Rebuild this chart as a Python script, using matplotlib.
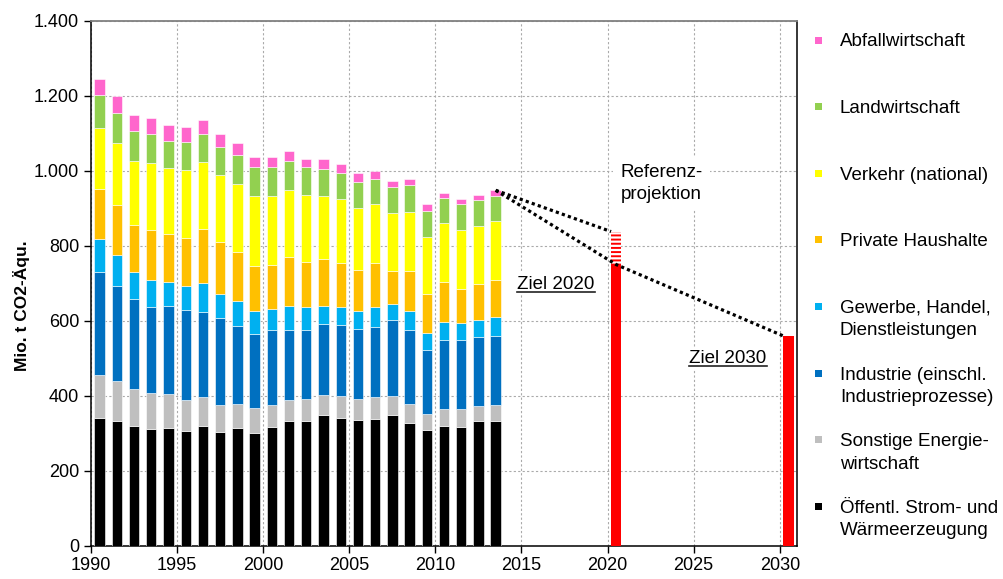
import numpy as np
import matplotlib
matplotlib.use("Agg")
from matplotlib import pyplot as plt
from matplotlib.patches import Rectangle
from matplotlib.lines import Line2D
from matplotlib.ticker import FuncFormatter, MultipleLocator

plt.rcParams['font.family'] = ['Liberation Sans', 'DejaVu Sans']
plt.rcParams['hatch.linewidth'] = 1.4

# Emissionen je Sektor, Mio. t CO2-Aequ.
years = list(range(1990, 2014))
oeffentl = [341, 334, 319, 311, 314, 307, 319, 305, 314, 302, 316, 333, 333, 348, 342, 336, 339, 348, 327, 308, 319, 316, 333, 333]
sonstige = [114, 107, 99, 96, 91, 83, 79, 70, 64, 65, 61, 56, 60, 54, 58, 57, 57, 53, 51, 44, 45, 48, 39, 42]
industrie = [276, 251, 239, 231, 234, 238, 225, 232, 209, 199, 200, 188, 183, 190, 189, 185, 188, 200, 198, 171, 186, 186, 186, 186]
gewerbe = [88, 84, 74, 70, 64, 64, 77, 65, 65, 60, 55, 62, 60, 48, 49, 48, 54, 43, 50, 46, 48, 45, 44, 48]
haushalte = [132, 133, 124, 135, 128, 130, 144, 137, 132, 120, 117, 132, 120, 124, 115, 110, 115, 90, 108, 102, 106, 90, 96, 101]
verkehr = [164, 166, 172, 179, 176, 179, 179, 181, 181, 188, 184, 179, 179, 170, 171, 164, 159, 153, 156, 152, 156, 156, 156, 156]
landw = [88, 80, 79, 76, 73, 75, 76, 74, 77, 76, 76, 76, 75, 70, 70, 71, 67, 70, 72, 71, 68, 71, 68, 68]
abfall = [42, 44, 43, 43, 42, 40, 36, 35, 31, 28, 28, 26, 22, 27, 23, 22, 20, 17, 16, 17, 14, 14, 14, 14]

series = [oeffentl, sonstige, industrie, gewerbe, haushalte, verkehr, landw, abfall]
labels = ["Öffentl. Strom- und\nWärmeerzeugung", "Sonstige Energie-\nwirtschaft",
          "Industrie (einschl.\nIndustrieprozesse)", "Gewerbe, Handel,\nDienstleistungen",
          "Private Haushalte", "Verkehr (national)", "Landwirtschaft", "Abfallwirtschaft"]
colors = ['#000000', '#BFBFBF', '#0070C0', '#00B0F0', '#FFC000', '#FFFF00', '#92D050', '#FF66CC']

# Ziele
ziel_years = [2020, 2030]
ziel_werte = [750, 560]
referenz_2020 = 838

W, H = 1004, 579
fig = plt.figure(figsize=(W / 100, H / 100), dpi=100)
ax = fig.add_axes([91 / W, 1 - 546 / H, (797 - 91) / W, (546 - 20.7) / H])

bw = 0.6
x = np.array(years) + 0.5
bottom = np.zeros(len(years))
for vals, c in zip(series, colors):
    ax.bar(x, vals, bw, bottom=bottom, color=c, edgecolor='white', linewidth=0.4, zorder=3)
    bottom += np.array(vals)

zx = np.array(ziel_years) + 0.5
ax.bar(zx, ziel_werte, bw, color='#FF0000', linewidth=0, zorder=3)
ax.bar(zx[0], referenz_2020 - ziel_werte[0], bw, bottom=ziel_werte[0], facecolor='white',
       edgecolor='#FF0000', hatch='----', linewidth=0, zorder=3)

# Verbindungslinien
x_start = x[-1]
y_start = bottom[-1]
ax.plot([x_start, zx[0] - bw / 2], [y_start, referenz_2020], color='black',
        linestyle=(0, (1, 1)), linewidth=2.3, zorder=4)
ax.plot([x_start, zx[0], zx[1] - bw / 2], [y_start, ziel_werte[0], ziel_werte[1]], color='black',
        linestyle=(0, (1, 1)), linewidth=2.3, zorder=4)

ax.set_xlim(1990, 2031)
ax.set_ylim(0, 1400)
ax.xaxis.set_major_locator(MultipleLocator(5))
ax.yaxis.set_major_locator(MultipleLocator(200))
ax.yaxis.set_major_formatter(FuncFormatter(lambda v, p: f"{int(v):,}".replace(',', '.')))
ax.grid(True, color='#AAAAAA', linestyle=(0, (2, 2)), linewidth=0.8, zorder=0)
ax.set_axisbelow(True)
ax.tick_params(labelsize=13, direction='out', length=5, width=1, colors='black')
ax.tick_params(axis='x', pad=3)
for s in ['left', 'bottom', 'right']:
    ax.spines[s].set_color('black')
    ax.spines[s].set_linewidth(1.1)
ax.spines['top'].set_color('#808080')
ax.spines['top'].set_linewidth(1.3)

fig.text(22 / W, 1 - 306 / H, "Mio. t CO2-Äqu.", rotation=90, fontsize=12.5,
         fontweight='bold', ha='center', va='center')

# Beschriftungen
ax.text(2020.75, 966, "Referenz-\nprojektion", fontsize=13.5, ha='left', va='center',
        linespacing=1.35, zorder=2,
        bbox=dict(boxstyle='square,pad=0.4', facecolor='white', edgecolor='none'))
t1 = ax.text(2017.0, 698, "Ziel 2020", fontsize=13.5, ha='center', va='center', zorder=2,
             bbox=dict(boxstyle='square,pad=0.15', facecolor='white', edgecolor='none'))
t2 = ax.text(2027.0, 501, "Ziel 2030", fontsize=13.5, ha='center', va='center', zorder=2,
             bbox=dict(boxstyle='square,pad=0.15', facecolor='white', edgecolor='none'))

fig.canvas.draw()
renderer = fig.canvas.get_renderer()
for t in [t1, t2]:
    bb = t.get_window_extent(renderer)
    yl = bb.y0 + 1.0
    fig.add_artist(Line2D([bb.x0 / W, bb.x1 / W], [yl / H, yl / H], color='#222222',
                          linewidth=1.2, transform=fig.transFigure))

# Legende (oben nach unten), Marker neben der ersten Zeile
for i, idx in enumerate(range(len(labels) - 1, -1, -1)):
    yc = 40 + 66.6 * i
    fig.patches.append(Rectangle((815 / W, 1 - (yc + 3.5) / H), 7 / W, 7 / H,
                                 facecolor=colors[idx], edgecolor='none',
                                 transform=fig.transFigure, figure=fig))
    for k, line in enumerate(labels[idx].split('\n')):
        fig.text(840 / W, 1 - (yc + 6.5 + 22.5 * k) / H, line, fontsize=13.5,
                 ha='left', va='baseline')

fig.savefig("out.png", dpi=100)
